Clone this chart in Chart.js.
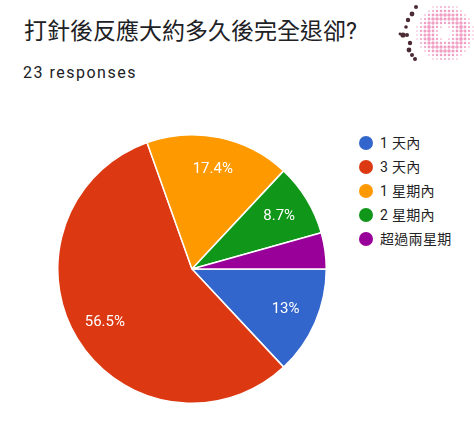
<!DOCTYPE html>
<html>
<head>
<meta charset="utf-8">
<script src="https://cdn.jsdelivr.net/npm/chart.js@4"></script>
<style>
  html, body { margin: 0; padding: 0; background: #fff; }
  body { width: 474px; height: 430px; position: relative; overflow: hidden;
         font-family: Roboto, "Noto Sans CJK TC", "Noto Sans", sans-serif; color: #202124; }
  #title { position: absolute; left: 24px; top: 18px; font-size: 23px; line-height: 28px; white-space: nowrap;
           font-family: Roboto, "Noto Sans CJK TC", sans-serif; color: #202124; }
  #sub { position: absolute; left: 23px; top: 63px; font-size: 16px; line-height: 20px; letter-spacing: 1.5px; color: #202124; }
  #pieWrap { position: absolute; left: 57px; top: 134px; width: 270px; height: 270px; }
  #legend { position: absolute; left: 359px; top: 134px; }
  .li { position: absolute; left: 0; height: 18px; white-space: nowrap; font-size: 14px; line-height: 18px; color: #222;
        letter-spacing: 0.3px; font-family: Roboto, "Noto Sans CJK TC", sans-serif; }
  .dot { position: absolute; left: 0; top: 2px; width: 14px; height: 14px; border-radius: 50%; }
  .lt { position: absolute; left: 21px; top: 0; }
  #icon { position: absolute; left: 396px; top: 0; }
</style>
</head>
<body>
<div id="title">打針後反應大約多久後完全退卻?</div>
<div id="sub">23 responses</div>
<canvas id="icon" width="78" height="68"></canvas>
<div id="pieWrap"><canvas id="pie" width="270" height="270"></canvas></div>
<div id="legend"></div>
<script>
const categories = ['1 天內', '3 天內', '1 星期內', '2 星期內', '超過兩星期'];
const counts = [3, 13, 4, 2, 1];
const colors = ['#3366cc', '#dc3912', '#ff9900', '#109618', '#990099'];

const total = counts.reduce((a, b) => a + b, 0);
function pctText(v) {
  const p = v / total * 100;
  return parseFloat(p.toPrecision(3)).toString() + '%';
}

const sliceLabels = {
  id: 'sliceLabels',
  afterDatasetsDraw(chart) {
    const ctx = chart.ctx;
    const meta = chart.getDatasetMeta(0);
    ctx.save();
    ctx.fillStyle = '#ffffff';
    ctx.font = '15px Roboto, sans-serif';
    ctx.textAlign = 'center';
    ctx.textBaseline = 'middle';
    meta.data.forEach((arc, i) => {
      const v = counts[i];
      if (v / total < 0.05) return;
      const p = arc.getProps(['x', 'y', 'startAngle', 'endAngle', 'outerRadius'], true);
      const mid = (p.startAngle + p.endAngle) / 2;
      const r = p.outerRadius * 0.76;
      ctx.fillText(pctText(v), p.x + Math.cos(mid) * r, p.y + Math.sin(mid) * r);
    });
    ctx.restore();
  }
};

new Chart(document.getElementById('pie'), {
  type: 'pie',
  data: {
    labels: categories,
    datasets: [{
      data: counts,
      backgroundColor: colors,
      borderColor: '#ffffff',
      borderWidth: 1.5,
      hoverOffset: 0
    }]
  },
  options: {
    responsive: false,
    animation: false,
    rotation: 90,
    events: [],
    layout: { padding: 0 },
    plugins: {
      legend: { display: false },
      tooltip: { enabled: false }
    }
  },
  plugins: [sliceLabels]
});

// legend
const legend = document.getElementById('legend');
const legendY = [0, 24, 48, 72, 96];
categories.forEach((c, i) => {
  const li = document.createElement('div');
  li.className = 'li';
  li.style.top = legendY[i] + 'px';
  li.innerHTML = '<span class="dot" style="background:' + colors[i] + '"></span><span class="lt"></span>';
  li.querySelector('.lt').textContent = c;
  legend.appendChild(li);
});

// decorative logo (halftone ring)
(function () {
  const cv = document.getElementById('icon');
  const g = cv.getContext('2d');
  const cx = 49, cy = 33;
  for (let y = 3; y < 66; y += 4) {
    for (let x = 21; x < 78; x += 4) {
      const d = Math.hypot(x - cx, y - cy);
      if (d > 29 || d < 7) continue;
      const t = 1 - Math.abs(d - 17) / 12;
      const s = 0.6 + 1.3 * Math.max(t, 0);
      g.fillStyle = '#f09ec4';
      g.beginPath(); g.arc(x, y, s, 0, Math.PI * 2); g.fill();
    }
  }
  g.fillStyle = '#4a2a33';
  const darks = [[20,7,2.0],[16,14,2.4],[12,20,2.2],[10,27,1.8],[7,35,2.6],[11,35,2.0],[14,43,2.2],[13,50,2.4],[16,55,2.0],[19,59,2.0],[4,34,1.4]];
  darks.forEach(d => { g.beginPath(); g.arc(d[0], d[1], d[2], 0, Math.PI * 2); g.fill(); });
})();
</script>
</body>
</html>
